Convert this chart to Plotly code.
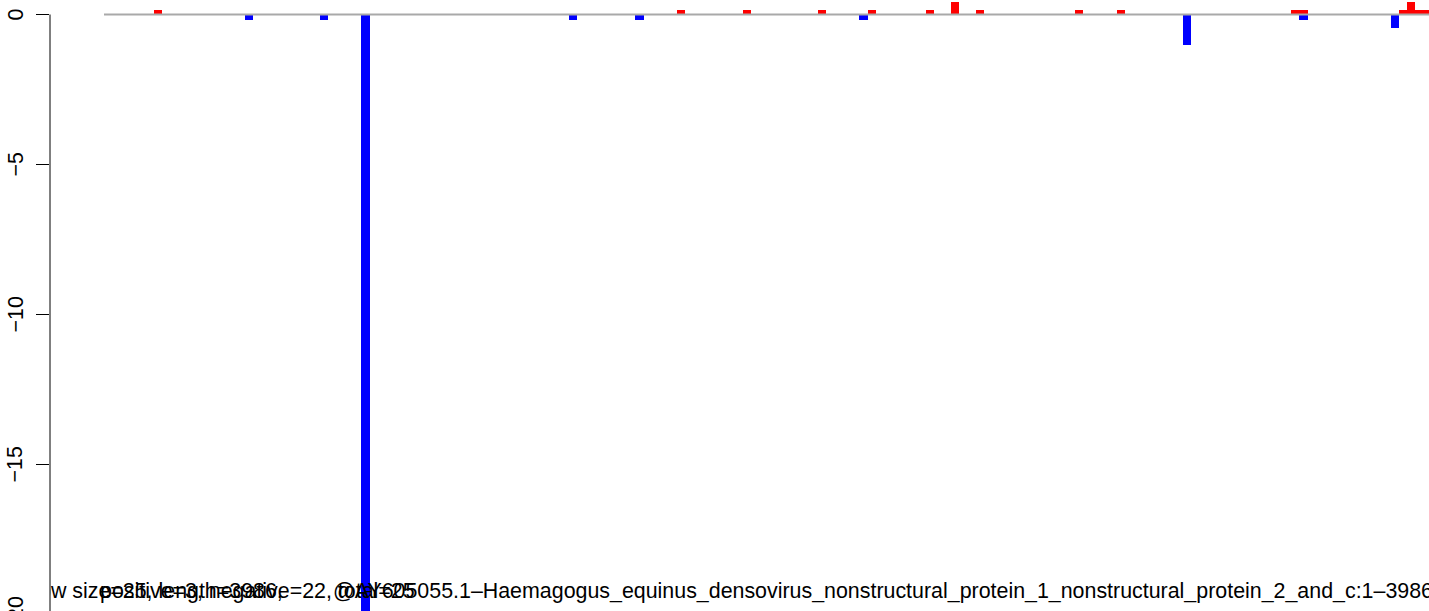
import plotly.graph_objects as go

# ---- data ----
n_windows = 160                      # 3986 nt / window size 25
pos_windows = [6, 69, 77, 86, 92, 99, 102, 105, 117, 122, 143, 144, 156, 157, 158, 159]
pos_values = [0.15, 0.15, 0.15, 0.15, 0.15, 0.15, 0.42, 0.15, 0.15, 0.15, 0.15, 0.15, 0.15, 0.42, 0.15, 0.15]
neg_windows = [17, 26, 31, 56, 64, 91, 130, 144, 155]
neg_values = [-0.18, -0.18, -20.0, -0.18, -0.18, -0.18, -1.0, -0.18, -0.45]
y_ticks = [0, -5, -10, -15, -20]
y_tick_labels = ["0", "\u22125", "\u221210", "\u221215", "\u221220"]
title_left = "window size=25, length=3986,"
title_counts = "positive=3, negative=22, total=25"
title_seq = "@AY605055.1\u2013Haemagogus_equinus_densovirus_nonstructural_protein_1_nonstructural_protein_2_and_c:1\u20133986"

# ---- layout geometry ----
W, H = 1429, 611
PX0, PXW = 104.0, 8.3          # pixel of window 0 left edge, pixels per window
ML = 50                         # plot area left edge
Y0, PY = 14.5, 30.0             # pixel of y=0, pixels per unit

def px_to_x(px):
    return (px - PX0) / PXW

def py_to_y(py):
    return -(py - Y0) / PY

def py_to_paper(py):
    return (H - py) / H

FONT = "Liberation Sans, Arial, Helvetica, sans-serif"
FS = 21.4

fig = go.Figure()
fig.add_trace(go.Bar(x=[w + 0.5 for w in pos_windows], y=pos_values, width=1,
                     marker=dict(color="#FF0000", line=dict(width=0)), showlegend=False,
                     hoverinfo="skip"))
fig.add_trace(go.Bar(x=[w + 0.5 for w in neg_windows], y=neg_values, width=1,
                     marker=dict(color="#0000FF", line=dict(width=0)), showlegend=False,
                     hoverinfo="skip"))

ty = py_to_y(593)
fig.add_trace(go.Scatter(x=[px_to_x(-5)], y=[ty], mode="text", text=[title_left],
                         textposition="middle right", cliponaxis=True, hoverinfo="skip",
                         textfont=dict(family=FONT, size=FS, color="black"), showlegend=False))
fig.add_trace(go.Scatter(x=[px_to_x(333)], y=[ty], mode="text", text=[title_seq],
                         textposition="middle right", cliponaxis=True, hoverinfo="skip",
                         textfont=dict(family=FONT, size=FS, color="black"), showlegend=False))
fig.add_trace(go.Scatter(x=[px_to_x(100)], y=[ty], mode="text", text=[title_counts],
                         textposition="middle right", cliponaxis=True, hoverinfo="skip",
                         textfont=dict(family=FONT, size=FS, color="black"), showlegend=False))

# zero line
fig.add_shape(type="line", xref="x", yref="y", x0=0, x1=n_windows, y0=0, y1=0,
              line=dict(color="#A9A9A9", width=2), layer="above")
# y axis line (R style: from first to last tick)
fig.add_shape(type="line", xref="paper", yref="y", x0=0, x1=0, y0=0, y1=-20,
              line=dict(color="black", width=1))

# y tick labels (rotated, parallel to the axis as in R)
for v, lab in zip(y_ticks, y_tick_labels):
    fig.add_annotation(xref="paper", yref="paper", x=0, y=py_to_paper(Y0 - v * PY), text=lab,
                       showarrow=False, textangle=-90, xanchor="center", yanchor="middle",
                       xshift=15 - ML, font=dict(family=FONT, size=FS, color="black"))

fig.update_layout(
    width=W, height=H,
    margin=dict(l=ML, r=0, t=0, b=0, pad=0, autoexpand=False),
    paper_bgcolor="white", plot_bgcolor="white",
    barmode="overlay", bargap=0,
    font=dict(family=FONT, size=FS, color="black"),
    xaxis=dict(range=[px_to_x(ML), px_to_x(W)], visible=False, showgrid=False, zeroline=False,
               automargin=False),
    yaxis=dict(range=[py_to_y(H), py_to_y(0)], showgrid=False, zeroline=False, showline=False,
               automargin=False, showticklabels=False,
               tickmode="array", tickvals=y_ticks,
               ticks="outside", ticklen=13, tickwidth=1, tickcolor="black"),
)

fig.write_html("out.html", config={"displayModeBar": False},
               post_script="document.body.style.margin='0px';document.body.style.overflow='hidden';")
